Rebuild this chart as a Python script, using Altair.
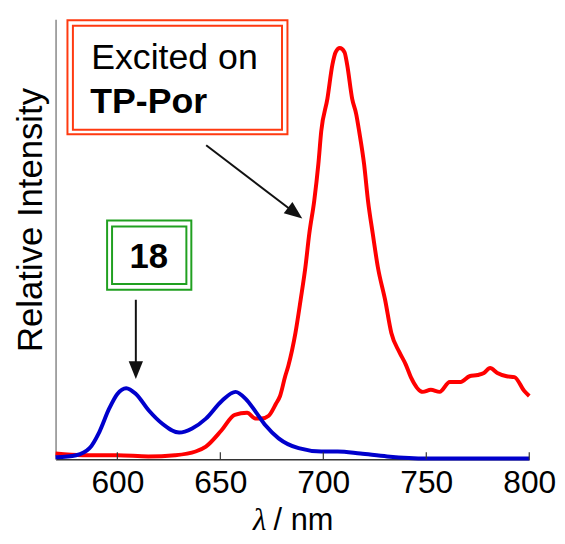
import altair as alt
import pandas as pd

# ---- data ----
red_wl = [570, 583, 600, 615, 628, 638, 643, 650.5, 657, 663, 667, 670, 673.5, 677, 679, 681.5,
          683, 686.5, 689, 691.3, 693.2, 695.6, 697.6, 699, 702, 704.4, 706, 708, 710.3, 711.6,
          714, 716, 717.4, 719.8, 721.7, 724, 726.5, 730, 733, 737, 740, 742.5, 748.3, 752.2,
          756.5, 761.4, 766.7, 771, 775, 778, 781, 784.5, 789, 792.8, 797.6, 800]
red_int = [0.014, 0.010, 0.010, 0.007, 0.010, 0.019, 0.031, 0.070, 0.108, 0.113, 0.099, 0.099,
           0.106, 0.135, 0.154, 0.202, 0.227, 0.308, 0.388, 0.467, 0.549, 0.629, 0.718, 0.798,
           0.877, 0.959, 0.99, 1.0, 0.99, 0.959, 0.877, 0.839, 0.798, 0.718, 0.629, 0.549, 0.467,
           0.388, 0.308, 0.26, 0.231, 0.2, 0.164, 0.169, 0.164, 0.188, 0.188, 0.202, 0.205, 0.21,
           0.222, 0.21, 0.202, 0.2, 0.166, 0.154]
blue_wl = [570, 580, 586.5, 591.3, 596, 600, 604.3, 609, 615.4, 621.7, 630, 636.3, 643, 650.7,
           657.4, 662.3, 667.1, 672, 678.3, 688, 699, 707, 718, 731, 750, 800]
blue_int = [0.005, 0.010, 0.027, 0.067, 0.123, 0.159, 0.173, 0.159, 0.118, 0.087, 0.065, 0.075,
            0.099, 0.142, 0.164, 0.147, 0.116, 0.082, 0.051, 0.027, 0.019, 0.019, 0.014, 0.007,
            0.002, 0.002]
series_names = ["Excited on TP-Por", "18"]
series_colors = ["#ff0000", "#0000cc"]
tick_values = [600, 650, 700, 750, 800]
x_domain = [570, 800]
y_domain = [0, 1.07]

FONT = "Liberation Sans"
W, H = 478, 444

red_df = pd.DataFrame({"wl": red_wl, "I": red_int, "s": series_names[0]})
blue_df = pd.DataFrame({"wl": blue_wl, "I": blue_int, "s": series_names[1]})
tick_df = pd.DataFrame({"wl": tick_values})
one = pd.DataFrame({"k": [0]})

xs = alt.Scale(domain=x_domain, nice=False, zero=False)
ys = alt.Scale(domain=y_domain, nice=False, zero=False)
cs = alt.Scale(domain=series_names, range=series_colors)

x_axis = alt.Axis(values=tick_values, ticks=False, grid=False, title=None,
                  labelFontSize=32, labelFont=FONT, labelColor="#000", labelPadding=9,
                  domainColor="#333", domainWidth=1.5, labelFlush=False, labelOverlap=False)
y_axis = alt.Axis(ticks=False, labels=False, grid=False, title="Relative Intensity",
                  titleFontSize=35, titleFont=FONT, titleFontWeight="normal", titleColor="#000",
                  titleAngle=270, titleAlign="center", titleBaseline="alphabetic",
                  titleX=-14, titleY=202, domainColor="#888", domainWidth=1.5)


def curve(df):
    return alt.Chart(df).mark_line(strokeWidth=4, interpolate="monotone", strokeJoin="round").encode(
        x=alt.X("wl:Q", scale=xs, axis=x_axis),
        y=alt.Y("I:Q", scale=ys, axis=y_axis),
        color=alt.Color("s:N", scale=cs, legend=None),
    )


ticks = alt.Chart(tick_df).mark_rule(color="#333", strokeWidth=1.2).encode(
    x=alt.X("wl:Q", scale=xs, axis=x_axis), y=alt.value(H), y2=alt.value(H - 7))


def box(x1, x2, y1, y2, color):
    return alt.Chart(one).mark_rect(fill="#ffffff", stroke=color, strokeWidth=2).encode(
        x=alt.value(x1), x2=alt.value(x2), y=alt.value(y1), y2=alt.value(y2))


def txt(s, x, y, size, weight="normal", align="left", style="normal", font=FONT):
    return alt.Chart(one).mark_text(text=s, fontSize=size, fontWeight=weight, align=align,
                                    baseline="alphabetic", font=font, fontStyle=style,
                                    color="#000").encode(x=alt.value(x), y=alt.value(y))


def seg(x1, y1, x2, y2):
    return alt.Chart(one).mark_rule(color="#111", strokeWidth=2).encode(
        x=alt.value(x1), y=alt.value(y1), x2=alt.value(x2), y2=alt.value(y2))


def head(x, y, ang):
    return alt.Chart(one).mark_point(shape="M0,-1L0.8,1L-0.8,1Z", filled=True, size=324,
                                     angle=ang, color="#111", opacity=1, strokeWidth=0).encode(
        x=alt.value(x), y=alt.value(y))


RED_BOX = "#ff3a10"
GREEN_BOX = "#20a020"

layers = [
    curve(red_df),
    curve(blue_df),
    ticks,
    box(12, 234, 1, 116, RED_BOX),
    box(17.5, 228.5, 6.5, 111.5, RED_BOX),
    txt("Excited on", 36, 50, 36),
    txt("TP-Por", 35, 95, 36, weight="bold"),
    seg(152, 127, 241, 195),
    head(241.8, 195.5, 127.3),
    box(52, 137, 203, 273, GREEN_BOX),
    box(57, 132, 209, 267, GREEN_BOX),
    txt("18", 94, 251, 35, weight="bold", align="center"),
    seg(81, 283, 81, 352),
    head(81, 354, 180),
    txt("λ", 206, 515, 31, style="italic", align="center", font="Liberation Serif"),
    txt("/ nm", 220, 515, 31),
]

chart = alt.layer(*layers).properties(
    width=W, height=H,
    padding={"left": 48, "top": 9, "right": 28, "bottom": 78},
    autosize=alt.AutoSizeParams(type="none"),
    background="#ffffff",
).configure_view(stroke=None)

chart.save("out.html", embed_options={"renderer": "svg", "actions": False})
